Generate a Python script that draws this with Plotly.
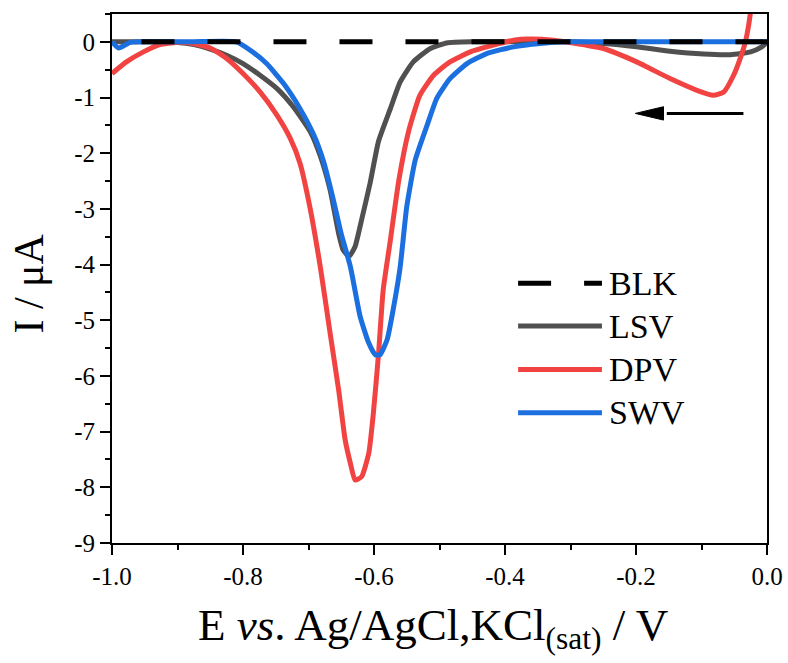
import plotly.graph_objects as go

# ---------------- data ----------------
blk_x = [-0.955, 0.0]
blk_y = [0.0, 0.0]

lsv_x = [-1.00, -0.95, -0.90, -0.875, -0.85, -0.825, -0.80, -0.774, -0.748, -0.723, -0.697,
         -0.682, -0.667, -0.654, -0.647, -0.638, -0.629, -0.619, -0.606, -0.593, -0.575,
         -0.56, -0.54, -0.514, -0.489, -0.45, -0.40, -0.30, -0.25, -0.199, -0.148, -0.097,
         -0.056, -0.025, -0.008, 0.0]
lsv_y = [0.0, 0.0, -0.01, -0.05, -0.13, -0.24, -0.39, -0.60, -0.84, -1.17, -1.62,
         -2.05, -2.66, -3.44, -3.74, -3.85, -3.68, -3.20, -2.54, -1.78, -1.20,
         -0.72, -0.36, -0.12, -0.02, 0.0, 0.0, 0.0, -0.03, -0.09, -0.17, -0.22,
         -0.23, -0.18, -0.09, -0.01]

dpv_x = [-1.00, -0.978, -0.952, -0.927, -0.901, -0.876, -0.85, -0.825, -0.80, -0.774, -0.748,
         -0.728, -0.713, -0.698, -0.682, -0.667, -0.654, -0.644, -0.636, -0.629, -0.619,
         -0.608, -0.601, -0.593, -0.586, -0.575, -0.562, -0.547, -0.530, -0.509, -0.484,
         -0.453, -0.418, -0.387, -0.362, -0.326, -0.296, -0.25, -0.199, -0.148, -0.107,
         -0.082, -0.066, -0.051, -0.041, -0.033, -0.028, -0.022]
dpv_y = [-0.57, -0.36, -0.18, -0.05, -0.01, -0.03, -0.11, -0.30, -0.57, -0.90, -1.32,
         -1.73, -2.18, -2.96, -4.04, -5.23, -6.25, -7.15, -7.57, -7.87, -7.81,
         -7.39, -6.67, -5.59, -4.46, -3.56, -2.48, -1.60, -0.96, -0.60, -0.36,
         -0.18, -0.06, 0.03, 0.05, 0.03, -0.02, -0.12, -0.36, -0.66, -0.87,
         -0.96, -0.90, -0.60, -0.30, 0.0, 0.3, 0.8]

swv_x = [-1.00, -0.99, -0.972, -0.94, -0.88, -0.81, -0.789, -0.764, -0.738, -0.713, -0.692,
         -0.677, -0.662, -0.650, -0.636, -0.621, -0.608, -0.598, -0.591, -0.580, -0.570,
         -0.560, -0.550, -0.537, -0.519, -0.504, -0.484, -0.458, -0.428, -0.387, -0.346,
         -0.306, -0.20, -0.10, 0.0]
swv_y = [0.0, -0.11, -0.01, 0.0, 0.0, 0.0, -0.15, -0.39, -0.75, -1.20, -1.67,
         -2.15, -2.84, -3.45, -4.04, -4.94, -5.41, -5.62, -5.62, -5.35, -4.76,
         -4.04, -2.96, -2.12, -1.50, -1.01, -0.66, -0.39, -0.21, -0.09, -0.03,
         0.0, 0.0, 0.0, 0.0]

series_names = ["BLK", "LSV", "DPV", "SWV"]
x_tickvals = [-1.0, -0.8, -0.6, -0.4, -0.2, 0.0]
x_ticktext = ["-1.0", "-0.8", "-0.6", "-0.4", "-0.2", "0.0"]
y_tickvals = [0, -1, -2, -3, -4, -5, -6, -7, -8, -9]
y_ticktext = ["0", "-1", "-2", "-3", "-4", "-5", "-6", "-7", "-8", "-9"]

# scan-direction arrow (data units)
arrow_tail_x = -0.036
arrow_tip_x = -0.201
arrow_head_back_x = -0.158
arrow_y = -1.285
arrow_half_h = 0.12

# ---------------- styling ----------------
C_BLK = "#000000"
C_LSV = "#505050"
C_DPV = "#F24343"
C_SWV = "#1C6FDF"
FONT = "Liberation Serif"
LW = 5

fig = go.Figure()
fig.add_trace(go.Scatter(x=lsv_x, y=lsv_y, mode="lines", name="LSV",
                         line=dict(color=C_LSV, width=LW, shape="spline", smoothing=0.5)))
fig.add_trace(go.Scatter(x=dpv_x, y=dpv_y, mode="lines", name="DPV",
                         line=dict(color=C_DPV, width=LW, shape="spline", smoothing=0.5)))
fig.add_trace(go.Scatter(x=swv_x, y=swv_y, mode="lines", name="SWV",
                         line=dict(color=C_SWV, width=LW, shape="spline", smoothing=0.5)))
fig.add_trace(go.Scatter(x=blk_x, y=blk_y, mode="lines", name="BLK",
                         line=dict(color=C_BLK, width=LW, dash="33px,33px")))

# arrow
fig.add_shape(type="line", xref="x", yref="y", x0=arrow_tail_x, x1=arrow_head_back_x + 0.005,
              y0=arrow_y, y1=arrow_y, line=dict(color="black", width=3))
fig.add_shape(type="path", xref="x", yref="y",
              path=f"M {arrow_tip_x},{arrow_y} L {arrow_head_back_x},{arrow_y + arrow_half_h} "
                   f"L {arrow_head_back_x},{arrow_y - arrow_half_h} Z",
              fillcolor="black", line=dict(color="black", width=1))

# manual legend
leg_x0, leg_x1, leg_tx = 0.620, 0.748, 0.756
leg_rows = [0.491, 0.410, 0.328, 0.246]
leg_colors = [C_BLK, C_LSV, C_DPV, C_SWV]
for name, col, yy in zip(series_names, leg_colors, leg_rows):
    fig.add_shape(type="line", xref="paper", yref="paper", x0=leg_x0, x1=leg_x1, y0=yy, y1=yy,
                  line=dict(color=col, width=LW, dash="33px,33px" if name == "BLK" else "solid"))
    fig.add_annotation(xref="paper", yref="paper", x=leg_tx, y=yy, text=name, showarrow=False,
                       xanchor="left", yanchor="middle", font=dict(family=FONT, size=34, color="black"))

# axis titles
fig.add_annotation(xref="paper", yref="paper", x=0.4895, y=-0.161,
                   text="E <i>vs</i>. Ag/AgCl,KCl<sub>(sat)</sub> / V", showarrow=False,
                   xanchor="center", yanchor="middle", font=dict(family=FONT, size=45, color="black"))
fig.add_annotation(xref="paper", yref="paper", x=-0.127, y=0.49, text="I / μA", textangle=-90,
                   showarrow=False, xanchor="center", yanchor="middle",
                   font=dict(family=FONT, size=42, color="black"))

axis_common = dict(showgrid=False, zeroline=False, showline=True, linecolor="black", linewidth=2,
                   mirror=True, ticks="outside", ticklen=10, tickwidth=2, tickcolor="black",
                   automargin=False,
                   tickfont=dict(family=FONT, size=25, color="black"))
fig.update_xaxes(range=[-1.0, 0.0], tickvals=x_tickvals, ticktext=x_ticktext,
                 minor=dict(dtick=0.1, ticks="outside", ticklen=5, tickwidth=2, tickcolor="black"),
                 **axis_common)
fig.update_yaxes(range=[-9.0, 0.5], tickvals=y_tickvals, ticktext=y_ticktext,
                 minor=dict(dtick=0.5, ticks="outside", ticklen=5, tickwidth=2, tickcolor="black"),
                 **axis_common)

fig.update_layout(template="none", width=788, height=663, margin=dict(l=112, r=21, t=14, b=120),
                  plot_bgcolor="white", paper_bgcolor="white", showlegend=False,
                  font=dict(family=FONT))
fig.write_html("out.html")
